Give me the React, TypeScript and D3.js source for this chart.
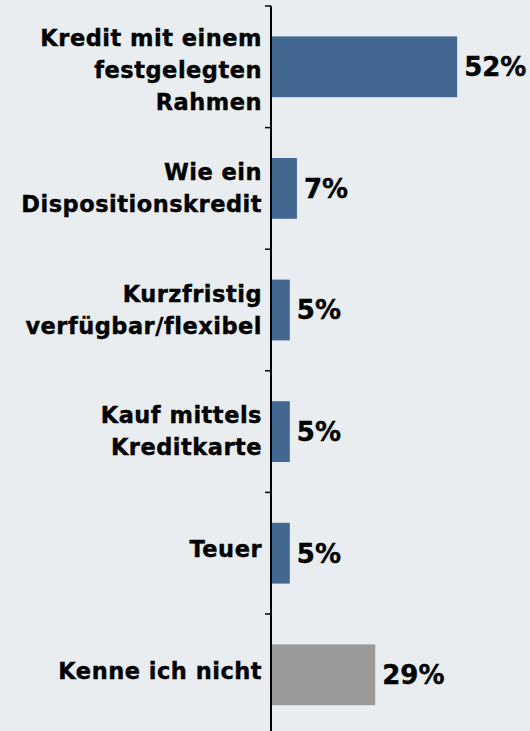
import React from "react";
import * as d3 from "d3";

const categories: string[][] = [
  ["Kredit mit einem", "festgelegten", "Rahmen"],
  ["Wie ein", "Dispositionskredit"],
  ["Kurzfristig", "verfügbar/flexibel"],
  ["Kauf mittels", "Kreditkarte"],
  ["Teuer"],
  ["Kenne ich nicht"],
];
const values: number[] = [52, 7, 5, 5, 5, 29];
const valueLabels: string[] = ["52%", "7%", "5%", "5%", "5%", "29%"];
const barColors: string[] = ["#426791", "#426791", "#426791", "#426791", "#426791", "#999999"];

const W = 530;
const H = 731;
const axisX = 271;
const topY = 6;
const step = 121.6;

export default function App() {
  const y = d3
    .scaleBand<number>()
    .domain(d3.range(values.length))
    .range([topY, topY + step * values.length])
    .paddingInner(0.5)
    .paddingOuter(0.25);
  const x = d3.scaleLinear().domain([0, 72.75]).range([axisX, W]);
  const font = "'DejaVu Sans', Verdana, sans-serif";
  const fs = 22.5;
  const lh = 31.8;
  const capH = fs * 0.73;
  const vfs = 26;
  const ticks = d3.range(values.length + 1).map((i) => topY + i * step);
  return (
    <svg
      width={W}
      height={H}
      style={{ position: "absolute", left: 0, top: 0, background: "#e9edef" }}
      fontFamily={font}
      fontWeight="bold"
    >
      <rect x={0} y={0} width={W} height={H} fill="#e9edef" />
      {values.map((v, i) => {
        const by = y(i)!;
        const bh = y.bandwidth();
        const cy = by + bh / 2;
        const lines = categories[i];
        const n = lines.length;
        const off = -4 + (n - 1) * 3.5;
        return (
          <g key={i}>
            <rect x={x(0) + 1} y={by} width={x(v) - x(0)} height={bh} fill={barColors[i]} />
            <text
              x={x(v) + 8}
              y={cy + (vfs * 0.73) / 2}
              fontSize={vfs}
              fill="#000"
              stroke="#000"
              strokeWidth={0.4}
            >
              {valueLabels[i]}
            </text>
            {lines.map((t, j) => (
              <text
                key={j}
                x={axisX - 9}
                y={cy + off + capH / 2 + (j - (n - 1) / 2) * lh}
                textAnchor="end"
                fontSize={fs}
                letterSpacing={0.5}
                fill="#000"
                stroke="#000"
                strokeWidth={0.4}
              >
                {t}
              </text>
            ))}
          </g>
        );
      })}
      <line x1={axisX} x2={axisX} y1={topY} y2={H + 10} stroke="#000" strokeWidth={2} />
      {ticks.map((t, i) => (
        <line key={i} x1={axisX - 6} x2={axisX} y1={t} y2={t} stroke="#000" strokeWidth={1.5} />
      ))}
    </svg>
  );
}
